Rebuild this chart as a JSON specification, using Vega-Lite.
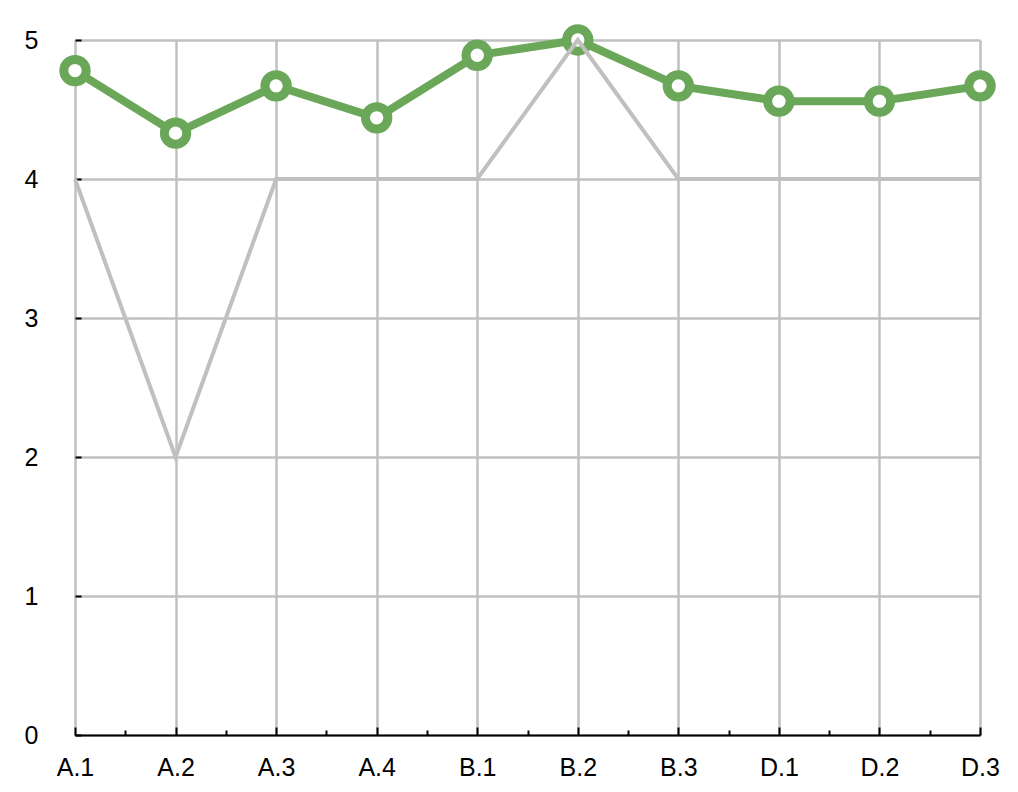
{
  "$schema": "https://vega.github.io/schema/vega-lite/v6.json",
  "width": 905,
  "height": 695,
  "padding": {"left": 75, "top": 40, "right": 38, "bottom": 57},
  "autosize": {"type": "none"},
  "background": "white",
  "config": {
    "view": {"stroke": null},
    "font": "Liberation Sans"
  },
  "data": {
    "values": [
      {"idx": 0, "label": "A.1", "green": 4.78, "gray": 4},
      {"idx": 1, "label": "A.2", "green": 4.33, "gray": 2},
      {"idx": 2, "label": "A.3", "green": 4.67, "gray": 4},
      {"idx": 3, "label": "A.4", "green": 4.44, "gray": 4},
      {"idx": 4, "label": "B.1", "green": 4.89, "gray": 4},
      {"idx": 5, "label": "B.2", "green": 5.0, "gray": 5},
      {"idx": 6, "label": "B.3", "green": 4.67, "gray": 4},
      {"idx": 7, "label": "D.1", "green": 4.56, "gray": 4},
      {"idx": 8, "label": "D.2", "green": 4.56, "gray": 4},
      {"idx": 9, "label": "D.3", "green": 4.67, "gray": 4}
    ]
  },
  "encoding": {
    "x": {
      "field": "idx",
      "type": "quantitative",
      "scale": {"domain": [0, 9], "nice": false, "zero": false},
      "axis": {
        "title": null,
        "values": [0, 0.5, 1, 1.5, 2, 2.5, 3, 3.5, 4, 4.5, 5, 5.5, 6, 6.5, 7, 7.5, 8, 8.5, 9],
        "labelExpr": "datum.value % 1 === 0 ? ['A.1','A.2','A.3','A.4','B.1','B.2','B.3','D.1','D.2','D.3'][datum.value] : ''",
        "labelFontSize": 25,
        "labelColor": "black",
        "labelPadding": 28,
        "labelFlush": false,
        "labelOverlap": false,
        "domainColor": "black",
        "domainWidth": 2,
        "tickColor": "black",
        "tickWidth": 2,
        "tickSize": {"condition": {"test": "datum.value % 1 !== 0", "value": -5}, "value": -8},
        "grid": true,
        "gridColor": "#c0c0c0",
        "gridWidth": 2.5,
        "gridOpacity": {"condition": {"test": "datum.value % 1 !== 0", "value": 0}, "value": 1},
        "zindex": 0
      }
    }
  },
  "layer": [
    {
      "mark": {"type": "line", "color": "#6aa758", "strokeWidth": 8},
      "encoding": {
        "y": {
          "field": "green",
          "type": "quantitative",
          "scale": {"domain": [0, 5], "nice": false},
          "axis": {
            "title": null,
            "values": [0, 1, 2, 3, 4, 5],
            "format": "d",
            "labelFontSize": 25,
            "labelColor": "black",
            "labelPadding": 43,
            "labelOverlap": false,
            "domain": false,
            "tickColor": "black",
            "tickWidth": 2,
            "tickSize": -6,
            "grid": true,
            "gridColor": "#c0c0c0",
            "gridWidth": 2.5,
            "zindex": 0
          }
        }
      }
    },
    {
      "mark": {"type": "point", "shape": "circle", "filled": false, "fill": "white", "fillOpacity": 1, "stroke": "#6aa758", "strokeWidth": 9, "size": 500, "opacity": 1},
      "encoding": {
        "y": {"field": "green", "type": "quantitative"}
      }
    },
    {
      "mark": {"type": "line", "color": "#c0c0c0", "strokeWidth": 4},
      "encoding": {
        "y": {"field": "gray", "type": "quantitative"}
      }
    }
  ]
}
